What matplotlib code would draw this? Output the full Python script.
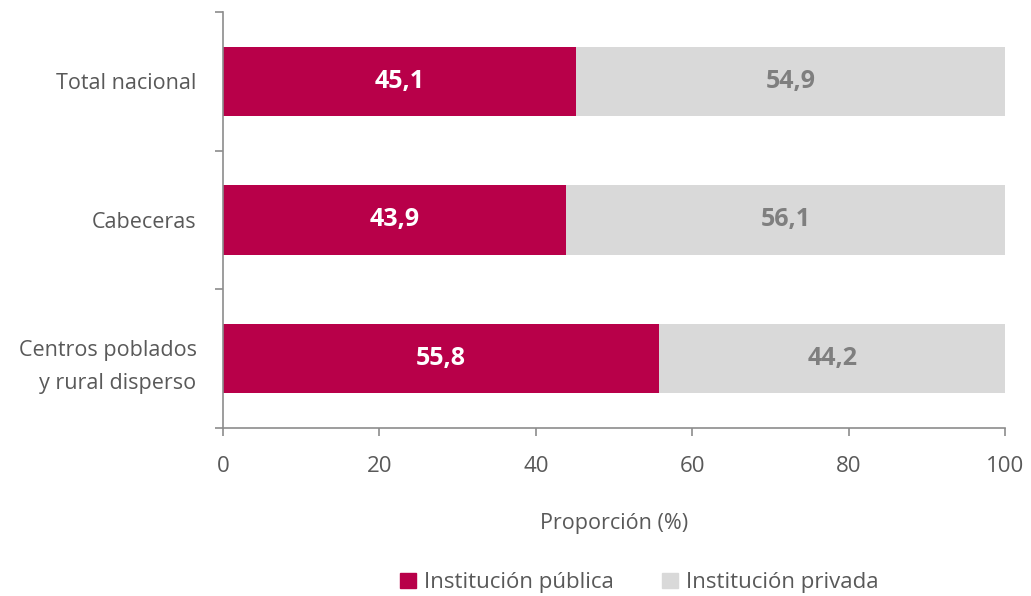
import numpy as np
import matplotlib.pyplot as plt
from matplotlib.patches import Patch

plt.rcParams['font.family'] = ['Open Sans', 'DejaVu Sans']

categories = ["Total nacional", "Cabeceras", "Centros poblados\ny rural disperso"]
publica = [45.1, 43.9, 55.8]
privada = [54.9, 56.1, 44.2]
xticks = [0, 20, 40, 60, 80, 100]

RED = "#B80049"
GREY = "#D9D9D9"
TXT = "#595959"
AX = "#8C8C8C"

fig = plt.figure(figsize=(10.31, 5.96), dpi=100)
ax = fig.add_axes([0.2163, 0.2819, 0.7585, 0.698])

y = np.arange(len(categories))
ax.barh(y, publica, height=0.5, color=RED)
ax.barh(y, privada, left=publica, height=0.5, color=GREY)

for yi, a, b in zip(y, publica, privada):
    ax.text(a / 2, yi, f"{a:.1f}".replace(".", ","), ha="center", va="center",
            color="white", fontsize=18, fontweight="bold")
    ax.text(a + b / 2, yi, f"{b:.1f}".replace(".", ","), ha="center", va="center",
            color="#7F7F7F", fontsize=18, fontweight="bold")

ax.set_xlim(0, 100)
ax.set_ylim(2.5, -0.5)
ax.set_xticks(xticks)
ax.set_xticklabels([str(t) for t in xticks], fontsize=16, color=TXT)

# category boundaries get the ticks, labels sit at the centres
ax.set_yticks([-0.5, 0.5, 1.5, 2.5])
ax.set_yticklabels([])
ax.set_yticks(y, minor=True)
ax.set_yticklabels(categories, minor=True, fontsize=15.5, color=TXT, linespacing=1.75)
ax.tick_params(axis="y", which="minor", length=0, pad=19)
ax.tick_params(axis="y", which="major", length=6, color=AX, width=1.2)
ax.tick_params(axis="x", length=6, color=AX, width=1.2, pad=14)

for s in ["top", "right"]:
    ax.spines[s].set_visible(False)
for s in ["left", "bottom"]:
    ax.spines[s].set_color(AX)
    ax.spines[s].set_linewidth(1.2)

ax.set_xlabel("Proporción (%)", fontsize=15.5, color=TXT, labelpad=26)

handles = [Patch(color=RED, label="Institución pública"),
           Patch(color=GREY, label="Institución privada")]
fig.legend(handles=handles, loc="center", bbox_to_anchor=(0.62, 0.022), ncol=2,
           frameon=False, fontsize=16, labelcolor=TXT, handlelength=0.7,
           handleheight=0.7, handletextpad=0.35, columnspacing=2.2)

fig.savefig("out.png", dpi=100)
